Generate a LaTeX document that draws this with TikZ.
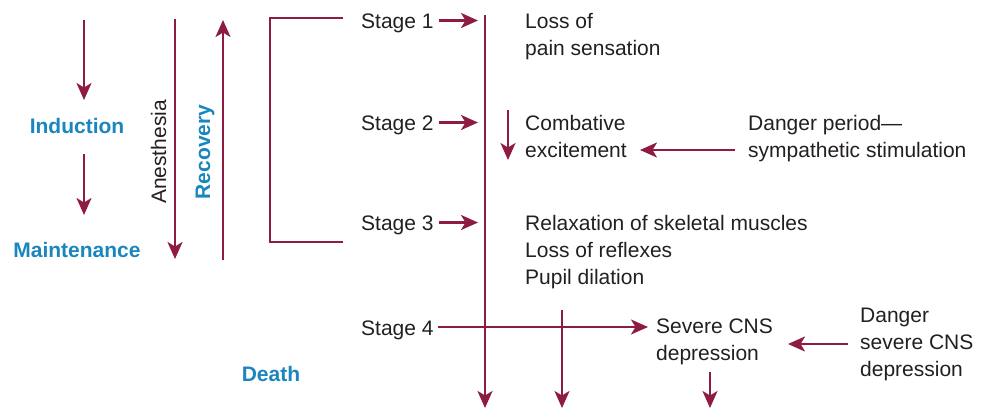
\documentclass[tikz,border=0pt]{standalone}
\usepackage{fontspec}
\setmainfont{Liberation Sans}
\usepackage{tikz}
\usetikzlibrary{arrows.meta}
\definecolor{wine}{HTML}{8E1B44}
\definecolor{phase}{HTML}{1A86BE}
\definecolor{ink}{HTML}{231F20}

\begin{document}
\begin{tikzpicture}[
 x=1pt,y=-1pt,
 txt/.style={inner sep=0pt,anchor=base west,align=left,text=ink,font=\fontsize{21}{27}\selectfont},
 phasetxt/.style={inner sep=0pt,anchor=base,text=phase,font=\fontsize{21}{27}\selectfont\bfseries},
 arrow/.style={-{Stealth[length=17pt,width=15pt,inset=4.5pt]},line width=2.4pt,draw=wine},
 link/.style={line width=2.4pt,draw=wine}
]
\useasboundingbox (0,0) rectangle (985,408);
% phases on the left
\node[phasetxt] (induction) at (77,133) {Induction};
\node[phasetxt] (maint) at (77,257) {Maintenance};
\node[phasetxt] (death) at (271,381) {Death};
\coordinate (ia) at (84,20);  \coordinate (ib) at (84,100);
\coordinate (ic) at (84,154); \coordinate (id) at (84,215);
\draw[arrow] (ia)--(ib);
\draw[arrow] (ic)--(id);
% anesthesia and recovery
\coordinate (an1) at (175,19);  \coordinate (an2) at (175,259);
\coordinate (re1) at (223,260); \coordinate (re2) at (223,20);
\draw[arrow] (an1)--(an2);
\draw[arrow] (re1)--(re2);
\node[txt,anchor=base,rotate=90] (anest) at (166,152) {Anesthesia};
\node[phasetxt,rotate=90] (recov) at (210,152) {Recovery};
% bracket over stages 1-3
\coordinate (br1) at (343,18); \coordinate (br2) at (343,242);
\draw[link] (br1) -- (270,18) -- (270,242) -- (br2);
% stages (base = last line)
\node[txt] (s1) at (361,28) {Stage 1};
\node[txt] (s2) at (361,130) {Stage 2};
\node[txt] (s3) at (361,230) {Stage 3};
\node[txt] (s4) at (361,335) {Stage 4};
\coordinate (main) at (485,15);
\coordinate (mainend) at (485,408);
\draw[arrow] (main)--(mainend);
\foreach \s in {s1,s2,s3}
  \draw[arrow,shorten <=5pt,shorten >=7pt] ([yshift=7.5pt]\s.base east) -- ([yshift=7.5pt]\s.base east -| main);
% effects
\node[txt] (pain) at (525,55) {Loss of\\pain sensation};
\node[txt] (comb) at (525,157) {Combative\\excitement};
\node[txt] (danger1) at (748,157) {Danger period---\\sympathetic stimulation};
\node[txt] (relax) at (525,284) {Relaxation of skeletal muscles\\Loss of reflexes\\Pupil dilation};
\node[txt] (cns) at (656,360) {Severe CNS\\depression};
\node[txt] (danger2) at (860,376) {Danger\\severe CNS\\depression};
\coordinate (c1) at (508,110); \coordinate (c2) at (508,160);
\draw[arrow] (c1)--(c2);
\coordinate (d1) at (735,150); \coordinate (d2) at (640,150);
\draw[arrow] (d1)--(d2);
\coordinate (s4a) at (438,327); \coordinate (s4b) at (648,327);
\draw[arrow] (s4a)--(s4b);
\coordinate (m1) at (562,310); \coordinate (m2) at (562,408);
\draw[arrow] (m1)--(m2);
\coordinate (e1) at (848,344); \coordinate (e2) at (788,344);
\draw[arrow] (e1)--(e2);
\coordinate (f1) at (710,372); \coordinate (f2) at (710,408);
\draw[arrow] (f1)--(f2);
\end{tikzpicture}
\end{document}
